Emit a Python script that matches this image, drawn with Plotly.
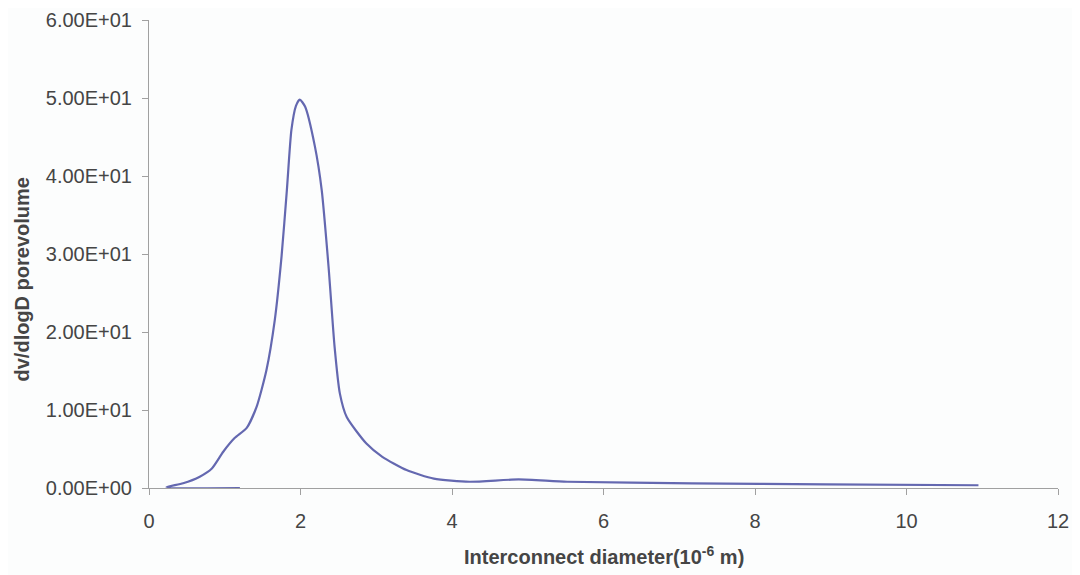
import plotly.graph_objects as go

# interconnect diameter (1e-6 m) and dv/dlogD pore volume
diameter = [1.20, 0.23, 0.45, 0.67, 0.83, 0.98, 1.13, 1.29, 1.42, 1.55, 1.66, 1.75,
            1.82, 1.88, 1.94, 1.99, 2.06, 2.19, 2.28, 2.37, 2.45, 2.52, 2.61, 2.87,
            3.08, 3.40, 3.76, 4.23, 4.88, 5.52, 7.17, 8.94, 10.95]
porevolume = [0.0, 0.1, 0.6, 1.45, 2.5, 4.65, 6.4, 7.7, 10.4, 15.1, 21.5, 29.7,
              38.2, 45.9, 49.0, 49.8, 48.9, 43.8, 38.2, 28.4, 18.1, 12.1, 9.1, 5.7,
              4.0, 2.3, 1.2, 0.8, 1.1, 0.8, 0.6, 0.47, 0.35]

y_ticks = [0, 10, 20, 30, 40, 50, 60]
y_labels = ["0.00E+00", "1.00E+01", "2.00E+01", "3.00E+01", "4.00E+01", "5.00E+01", "6.00E+01"]
x_ticks = [0, 2, 4, 6, 8, 10, 12]

fig = go.Figure()
fig.add_trace(go.Scatter(
    x=diameter, y=porevolume, mode="lines",
    line=dict(color="#6468b0", width=2.2, shape="spline", smoothing=0.6),
    showlegend=False,
))

text_color = "#454545"
# the page body adds 8px, so the margins are shifted by that much
fig.update_layout(
    width=1080, height=575,
    margin=dict(l=141, r=30, t=12, b=95, autoexpand=False),
    paper_bgcolor="#fcfdfd", plot_bgcolor="#fcfdfd",
    font=dict(family="Liberation Sans, Arial", size=20, color=text_color),
)
fig.update_xaxes(
    range=[0, 12], tickvals=x_ticks, ticks="outside", ticklen=6, tickcolor="#a0a0a0",
    showline=True, linecolor="#a0a0a0", linewidth=1, showgrid=False, zeroline=False,
    ticklabelstandoff=9, automargin=False,
)
fig.update_yaxes(
    range=[0, 60], tickvals=y_ticks, ticktext=y_labels, ticks="outside", ticklen=6,
    tickcolor="#a0a0a0", showline=True, linecolor="#a0a0a0", linewidth=1,
    showgrid=False, zeroline=False, ticklabelstandoff=6, automargin=False,
)

# axis titles placed as annotations to match the original positions
fig.add_annotation(
    text="<b>Interconnect diameter(10<sup>-6</sup> m)</b>",
    xref="paper", yref="paper", x=0.5, y=-0.145, yanchor="middle",
    showarrow=False, font=dict(size=20, color=text_color),
)
fig.add_annotation(
    text="<b>dv/dlogD porevolume</b>",
    xref="paper", yref="paper", x=-0.14, y=0.445, textangle=-90,
    xanchor="center", yanchor="middle",
    showarrow=False, font=dict(size=20, color=text_color),
)

fig.write_html("out.html")
